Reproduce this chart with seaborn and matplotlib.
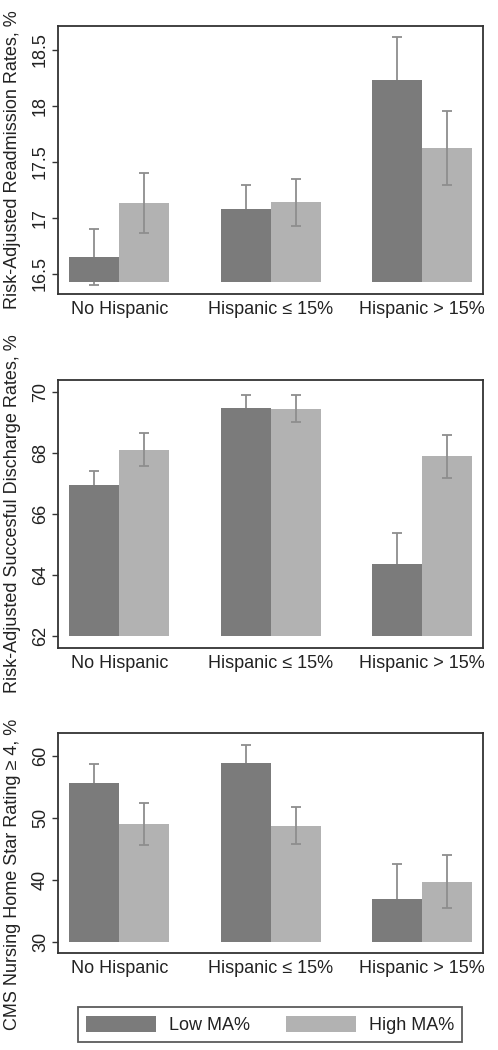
import numpy as np
import pandas as pd
import matplotlib
matplotlib.use("Agg")
import matplotlib.pyplot as plt
import seaborn as sns
from matplotlib.patches import Patch

# ---------------- data ----------------
categories = ["No Hispanic", "Hispanic \u2264 15%", "Hispanic > 15%"]
groups = ["Low MA%", "High MA%"]

readmit_low = [16.65, 17.08, 18.23]
readmit_high = [17.13, 17.14, 17.625]
readmit_low_err = [0.25, 0.21, 0.38]
readmit_high_err = [0.27, 0.21, 0.33]

discharge_low = [66.93, 69.46, 64.35]
discharge_high = [68.10, 69.44, 67.88]
discharge_low_err = [0.48, 0.42, 1.01]
discharge_high_err = [0.53, 0.45, 0.70]

star_low = [55.74, 58.87, 36.96]
star_high = [49.05, 48.73, 39.71]
star_low_err = [2.97, 2.97, 5.61]
star_high_err = [3.45, 3.02, 4.30]

panels = [
    dict(low=readmit_low, high=readmit_high, lerr=readmit_low_err, herr=readmit_high_err,
         ylabel="Risk-Adjusted Readmission Rates, %", ticks=[16.5, 17, 17.5, 18, 18.5],
         ticklabels=["16.5", "17", "17.5", "18", "18.5"], base=16.43, ylim=(16.32, 18.71),
         rect=[0.1165, 0.7200, 0.8534, 0.2552], labely=0.5),
    dict(low=discharge_low, high=discharge_high, lerr=discharge_low_err, herr=discharge_high_err,
         ylabel="Risk-Adjusted Succesful Discharge Rates, %", ticks=[62, 64, 66, 68, 70],
         ticklabels=["62", "64", "66", "68", "70"], base=62.0, ylim=(61.6, 70.38),
         rect=[0.1165, 0.3829, 0.8534, 0.2552], labely=0.5),
    dict(low=star_low, high=star_high, lerr=star_low_err, herr=star_high_err,
         ylabel="CMS Nursing Home Star Rating \u2265 4, %", ticks=[30, 40, 50, 60],
         ticklabels=["30", "40", "50", "60"], base=30.0, ylim=(28.1, 63.7),
         rect=[0.1165, 0.0921, 0.8534, 0.2095], labely=0.36),
]

DARK = "#7b7b7b"
LIGHT = "#b2b2b2"
ERR = "#8e8e8e"
FS = 13

sns.set_theme(style="white")
plt.rcParams["font.family"] = ["Liberation Sans", "DejaVu Sans"]

fig = plt.figure(figsize=(4.98, 10.5), dpi=100)

for p in panels:
    ax = fig.add_axes(p["rect"])
    base = p["base"]
    df = pd.DataFrame({
        "cat": categories * 2,
        "grp": [groups[0]] * 3 + [groups[1]] * 3,
        "val": [v - base for v in p["low"]] + [v - base for v in p["high"]],
    })
    sns.barplot(data=df, x="cat", y="val", hue="grp", order=categories, hue_order=groups,
                palette=[DARK, LIGHT], errorbar=None, width=0.662, gap=0,
                saturation=1, ax=ax, legend=False, bottom=base, linewidth=0,
                edgecolor="none")
    bars = ax.patches
    for b in bars:
        b.set_zorder(2)
    vals = p["low"] + p["high"]
    errs = p["lerr"] + p["herr"]
    for i, (b, v, e) in enumerate(zip(bars, vals, errs)):
        cx = b.get_x() + b.get_width() / 2
        z = 1.5 if i < 3 else 3
        ax.errorbar(cx, v, yerr=e, fmt="none", ecolor=ERR, elinewidth=1.3,
                    capsize=3.8, capthick=1.3, zorder=z)
    ax.set_xlim(-0.407, 2.407)
    ax.set_ylim(*p["ylim"])
    ax.set_yticks(p["ticks"])
    ax.set_yticklabels(p["ticklabels"], rotation=90, va="center", fontsize=FS, color="#222222")
    ax.set_xticks(range(3))
    ax.set_xticklabels(categories, fontsize=FS, color="#222222")
    ax.tick_params(axis="y", which="both", left=True, length=4.5, width=1.0,
                   color="#333333", pad=2)
    ax.tick_params(axis="x", bottom=False, length=0, pad=5)
    ax.set_xlabel("")
    ax.set_ylabel(p["ylabel"], fontsize=FS, color="#222222")
    ax.yaxis.set_label_coords(-0.086, p["labely"])
    for s in ax.spines.values():
        s.set_visible(True)
        s.set_color("#333333")
        s.set_linewidth(1.3)

handles = [Patch(facecolor=DARK, edgecolor="none", label=groups[0]),
           Patch(facecolor=LIGHT, edgecolor="none", label=groups[1])]
leg = fig.legend(handles=handles, loc="center", bbox_to_anchor=(270 / 498, 1 - 1024.7 / 1050),
                 ncol=2, fontsize=FS, frameon=True, fancybox=False, handlelength=3.9,
                 handleheight=1.0, handletextpad=0.7, columnspacing=2.0,
                 borderpad=0.45, borderaxespad=0)
leg.get_frame().set_edgecolor("#333333")
leg.get_frame().set_linewidth(1.3)
for t in leg.get_texts():
    t.set_color("#222222")

fig.savefig("out.png", dpi=100, facecolor="white")
